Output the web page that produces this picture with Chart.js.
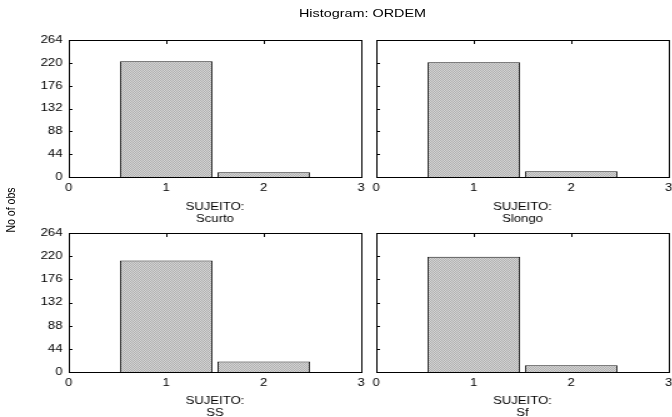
<!DOCTYPE html>
<html lang="pt">
<head>
  <meta charset="UTF-8">
  <title>Histogram: ORDEM</title>
  <script src="https://cdn.jsdelivr.net/npm/chart.js"></script>
  <style>
    html, body { margin: 0; padding: 0; background: #fff; overflow: hidden; }
    /* the original picture is stretched sideways, so draw narrow and widen */
    #page {
      position: absolute; left: 0; top: 0; width: 538px; height: 417px;
      transform: scaleX(1.25); transform-origin: 0 0;
      font-family: "Liberation Sans", Arial, sans-serif; color: #000;
    }
    .panel { position: absolute; }
    #title { position: absolute; left: 0; width: 580px; top: 7px; text-align: center; font-size: 11.5px; }
    #ylabel {
      position: absolute; left: 8px; top: 210px; font-size: 10.5px; white-space: nowrap;
      transform: translate(-50%, -50%) rotate(-90deg);
    }
  </style>
</head>
<body>
  <div id="page">
    <div id="title">Histogram: ORDEM</div>
    <div id="ylabel">No of obs</div>
    <div class="panel" style="left:16px;top:30px;width:280px;height:195px"><canvas id="c0"></canvas></div>
    <div class="panel" style="left:296px;top:30px;width:242px;height:195px"><canvas id="c1"></canvas></div>
    <div class="panel" style="left:16px;top:225px;width:280px;height:194px"><canvas id="c2"></canvas></div>
    <div class="panel" style="left:296px;top:225px;width:242px;height:194px"><canvas id="c3"></canvas></div>
  </div>
  <script>
    // Data
    const subjects = ['Scurto', 'Slongo', 'SS', 'Sf'];
    const bins = [1, 2];
    const countsScurto = [223, 9];
    const countsSlongo = [221, 11];
    const countsSS = [212, 20];
    const countsSf = [219, 13];
    const xTickValues = [0, 1, 2, 3];
    const yTickValues = [0, 44, 88, 132, 176, 220, 264];

    const allCounts = [countsScurto, countsSlongo, countsSS, countsSf];

    // grey dither tile for the bars (low contrast so the stretch doesn't stripe it)
    const tile = document.createElement('canvas');
    tile.width = 2; tile.height = 2;
    const tg = tile.getContext('2d');
    tg.fillStyle = '#d6d6d6'; tg.fillRect(0, 0, 2, 2);
    tg.fillStyle = '#afafaf'; tg.fillRect(0, 0, 1, 1); tg.fillRect(1, 1, 1, 1);

    // box around the plot area with small inward ticks
    const framePlugin = {
      id: 'frame',
      afterDatasetsDraw(chart) {
        const { ctx, chartArea: a, scales: { x, y } } = chart;
        const l = Math.round(a.left), t = Math.round(a.top);
        const r = Math.round(a.right), b = Math.round(a.bottom);
        ctx.save();
        ctx.strokeStyle = '#000';
        ctx.lineWidth = 1;
        ctx.strokeRect(l + 0.5, t + 0.5, r - l, b - t);
        ctx.beginPath();
        y.ticks.forEach(tk => {
          if (tk.value <= y.min || tk.value >= y.max) return;
          const yy = Math.round(y.getPixelForValue(tk.value)) + 0.5;
          ctx.moveTo(l, yy); ctx.lineTo(l + 3, yy);
        });
        x.ticks.forEach(tk => {
          if (tk.value <= x.min || tk.value >= x.max) return;
          const xx = Math.round(x.getPixelForValue(tk.value)) + 0.5;
          ctx.moveTo(xx, t); ctx.lineTo(xx, t + 4);
        });
        ctx.stroke();
        ctx.restore();
      }
    };

    const font = { family: '"Liberation Sans", Arial, sans-serif', size: 10.5 };

    function makePanel(i) {
      const left = i % 2 === 0;
      const top = i < 2;
      const yAxisW = left ? 39 : 5;
      const xAxisH = top ? 48 : 47;
      const counts = allCounts[i];

      new Chart(document.getElementById('c' + i), {
        type: 'bar',
        data: {
          datasets: [{
            data: bins.map((b, k) => ({ x: b, y: counts[k] })),
            backgroundColor: c => c.chart.ctx.createPattern(tile, 'repeat'),
            borderColor: '#1a1a1a',
            borderWidth: 1,
            barPercentage: 0.95,
            categoryPercentage: 1
          }]
        },
        options: {
          responsive: true,
          maintainAspectRatio: false,
          animation: false,
          layout: { padding: { top: top ? 10 : 8, right: left ? 7 : 3, left: 0, bottom: 0 } },
          plugins: { legend: { display: false }, tooltip: { enabled: false } },
          scales: {
            x: {
              type: 'linear',
              min: 0, max: 3,
              offset: false,
              grid: { display: false, offset: false, drawTicks: false },
              border: { display: false },
              afterBuildTicks: s => { s.ticks = xTickValues.map(v => ({ value: v })); },
              ticks: { font, color: '#000', padding: 5, maxRotation: 0 },
              title: {
                display: true,
                text: ['SUJEITO:', subjects[i]],
                font: { family: font.family, size: 10.5, lineHeight: 1.15 },
                color: '#000',
                padding: { top: 0, bottom: 0 }
              },
              afterFit: s => { s.height = xAxisH; s.paddingLeft = 0; s.paddingRight = 0; }
            },
            y: {
              min: 0, max: 264,
              grid: { display: false, drawTicks: false },
              border: { display: false },
              afterBuildTicks: s => { s.ticks = yTickValues.map(v => ({ value: v })); },
              ticks: { display: left, font, color: '#000', padding: 5 },
              afterFit: s => { s.width = yAxisW; s.paddingTop = 0; s.paddingBottom = 0; }
            }
          }
        },
        plugins: [framePlugin]
      });
    }

    subjects.forEach((s, i) => makePanel(i));
  </script>
</body>
</html>
